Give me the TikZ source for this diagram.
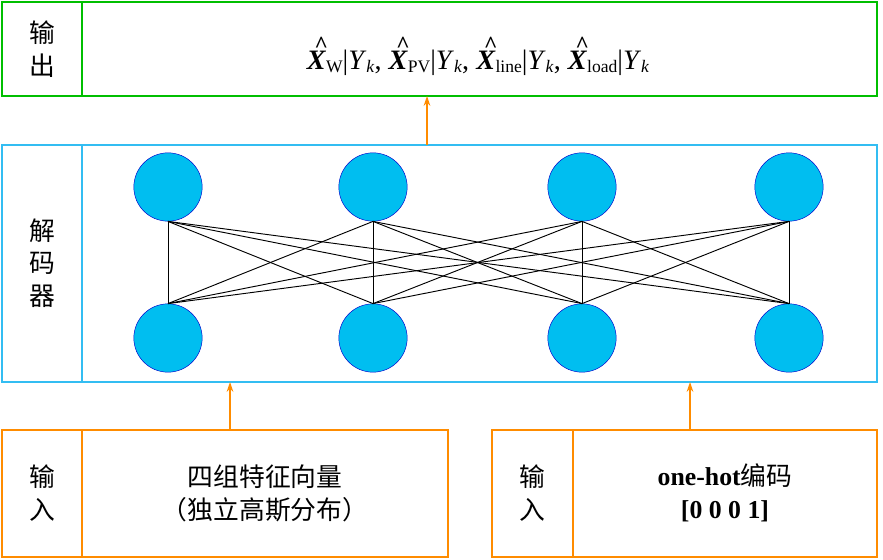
\documentclass[tikz,border=0pt]{standalone}
\usepackage{fontspec}
\setmainfont{Liberation Serif}
\newfontfamily\cjk{Noto Sans CJK SC}
\usetikzlibrary{arrows.meta}
\definecolor{unitfill}{RGB}{0,190,240}
\newcommand{\lowsub}[1]{\raisebox{-0.3ex}{\fontsize{15}{16}\selectfont #1}}
\newcommand{\hatX}{\rlap{\hspace{0.27em}\raisebox{0.6em}{\fontsize{20}{20}\selectfont\textasciicircum}}X}
\newcommand{\estof}[1]{\textbf{\textit{\hatX}}\lowsub{#1}|\textit{Y}\lowsub{\textit{k}}}
\begin{document}
\begin{tikzpicture}[x=0.03cm,y=-0.03cm,
    frame/.style={draw,line width=1.2pt},
    unit/.style={circle,draw=blue!80!black,fill=unitfill,minimum size=2.05cm,inner sep=0pt},
    flow/.style={draw=orange!90!yellow,line width=1pt,-{Stealth[length=3mm,width=2mm]}},
    lbl/.style={font=\fontsize{22}{28}\selectfont\cjk,align=center}]
    \useasboundingbox (0,0) rectangle (883,560);
    % output
    \draw[frame,green!75!black] (2,2) rectangle (877,96);
    \draw[frame,green!75!black] (82,2) -- (82,96);
    \node[lbl] (outl) at (42,49) {输\\出};
    \node[font=\fontsize{24}{26}\selectfont] (out) at (478,56)
        {\estof{W}, \estof{PV}, \estof{line}, \estof{load}};
    % decoder
    \draw[frame,cyan!80!white] (2,145) rectangle (877,382);
    \draw[frame,cyan!80!white] (82,145) -- (82,382);
    \node[lbl] (decl) at (42,263) {解\\码\\器};
    \foreach \i/\x in {1/168,2/373,3/582,4/789} {
        \node[unit] (t\i) at (\x,187) {};
        \node[unit] (b\i) at (\x,338) {};
    }
    \foreach \i in {1,...,4}
        \foreach \j in {1,...,4}
            \draw[line width=0.8pt] (t\i.south) -- (b\j.north);
    % inputs
    \draw[frame,orange!90!yellow] (2,430) rectangle (448,557);
    \draw[frame,orange!90!yellow] (82,430) -- (82,557);
    \node[lbl] (in1l) at (42,493) {输\\入};
    \node[lbl] (in1) at (265,493) {四组特征向量\\（独立高斯分布）};
    \draw[frame,orange!90!yellow] (492,430) rectangle (877,557);
    \draw[frame,orange!90!yellow] (573,430) -- (573,557);
    \node[lbl] (in2l) at (532,493) {输\\入};
    \node[lbl] (in2) at (725,493) {{\rmfamily\bfseries one-hot}编码\\{\rmfamily\bfseries [0 0 0 1]}};
    % arrows
    \coordinate (dtop) at (427,145);
    \coordinate (otop) at (427,96);
    \coordinate (d1) at (230,382);
    \coordinate (i1) at (230,430);
    \coordinate (d2) at (690,382);
    \coordinate (i2) at (690,430);
    \draw[flow] (dtop) -- (otop);
    \draw[flow] (i1) -- (d1);
    \draw[flow] (i2) -- (d2);
\end{tikzpicture}
\end{document}
